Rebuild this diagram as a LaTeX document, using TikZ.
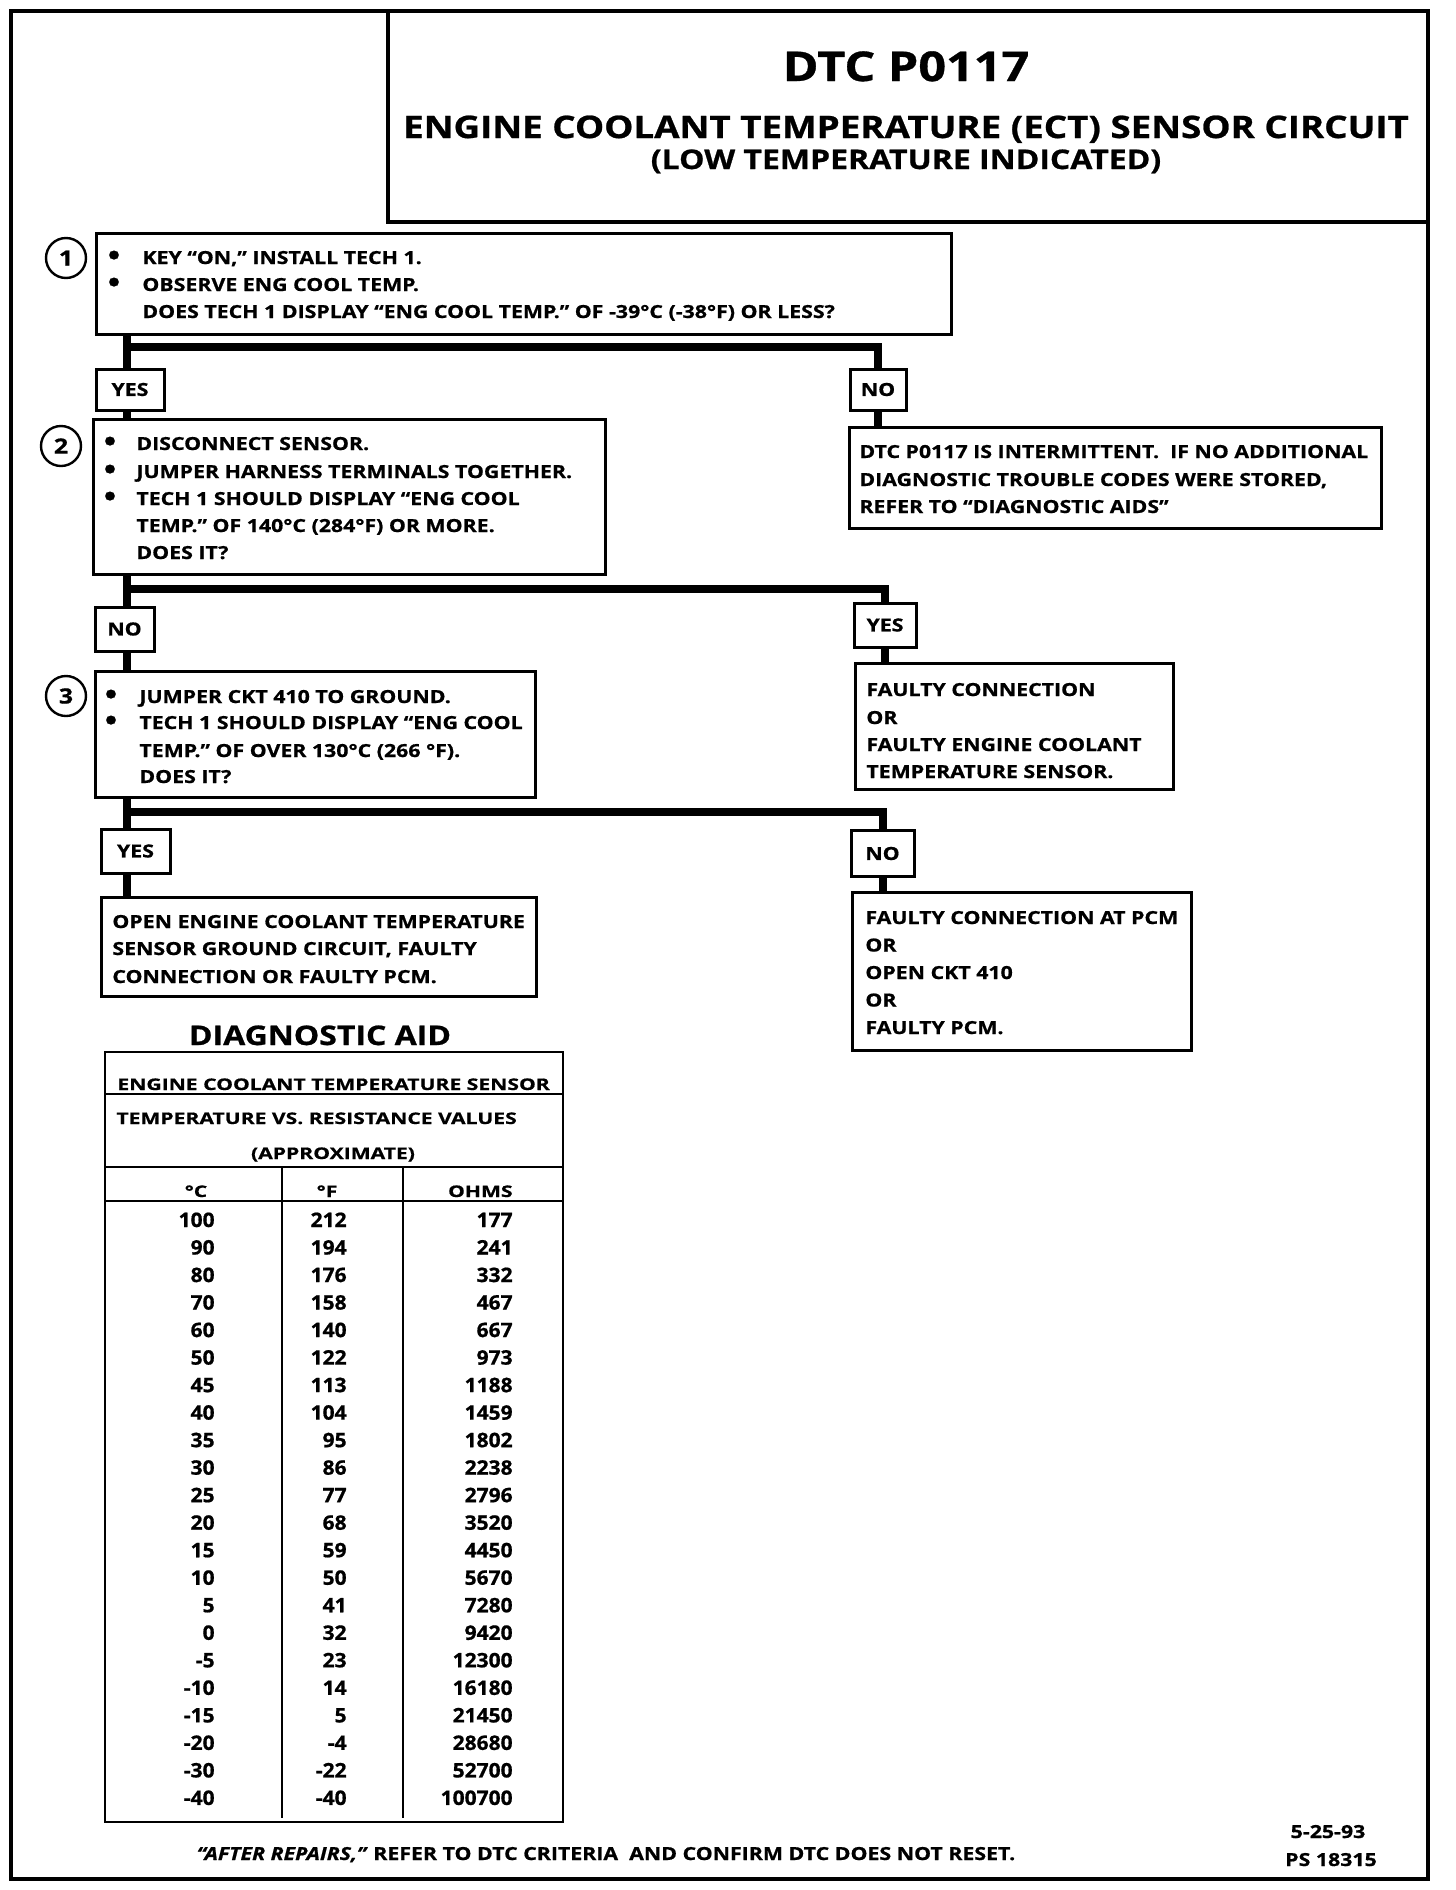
\documentclass[tikz,border=0pt]{standalone}
\usepackage{fontspec}
\setmainfont{Open Sans}[FakeStretch=1.185,FakeBold=0.8]
\newfontfamily\plainf{Open Sans}[FakeStretch=1.05,FakeBold=0.8]
\newfontfamily\wideh{Open Sans}[FakeStretch=1.32,FakeBold=0.6]
\begin{document}
\begin{tikzpicture}[x=0.5pt,y=-0.5pt,
  box/.style={draw, line width=1.5pt, inner sep=0pt},
  conn/.style={line width=4pt},
  ft/.style={font=\bfseries\fontsize{9}{11}\selectfont},
  tx/.style={ft, anchor=base west, inner sep=0pt},
  bul/.style={anchor=center, inner sep=0pt, font=\bfseries\fontsize{14}{14}\selectfont},
  num/.style={circle, draw, line width=1.2pt, minimum size=20pt, inner sep=0pt, font=\bfseries\fontsize{10.5}{12}\selectfont},
  yn/.style={box, ft},
  tl/.style={line width=1.4pt},
  thd/.style={anchor=base west, inner sep=0pt, font=\wideh\bfseries\fontsize{8}{10}\selectfont},
  dig/.style={anchor=base east, inner sep=0pt, font=\plainf\bfseries\fontsize{10}{11}\selectfont}]
\useasboundingbox (0,0) rectangle (1456,1890);
\fill[white] (0,0) rectangle (1456,1890);
% frame and header
\draw[line width=2pt] (11,11) rectangle (1428,1879);
\draw[line width=2pt] (388,11) -- (388,222) -- (1428,222);
\node[anchor=base, inner sep=0pt, font=\bfseries\fontsize{20.5}{24}\selectfont] (ttl) at (906,81) {DTC P0117};
\node[anchor=base, inner sep=0pt, font=\bfseries\fontsize{15.5}{18}\selectfont] (sub1) at (906,138) {ENGINE COOLANT TEMPERATURE (ECT) SENSOR CIRCUIT};
\node[anchor=base, inner sep=0pt, font=\bfseries\fontsize{13.5}{16}\selectfont] (sub2) at (906,169) {(LOW TEMPERATURE INDICATED)};

% step 1
\node[box, minimum width=427.5pt, minimum height=50.5pt] (s1) at (523.5,283.5) {};
\node[num] (c1) at (66,258) {1};
\node[bul] (b1a) at (114,258) {•};
\node[bul] (b1b) at (114,285) {•};
\node[tx] (t1a) at (142,264) {KEY “ON,” INSTALL TECH 1.};
\node[tx] (t1b) at (142,291) {OBSERVE ENG COOL TEMP.};
\node[tx] (t1c) at (142,318) {DOES TECH 1 DISPLAY “ENG COOL TEMP.” OF -39°C (-38°F) OR LESS?};

\node[yn, minimum width=34pt, minimum height=20.5pt] (y1) at (130,389.5) {YES};
\node[yn, minimum width=28pt, minimum height=20.5pt] (n1) at (878,389.5) {NO};

% step 2
\node[box, minimum width=256pt, minimum height=77.5pt] (s2) at (349,496.5) {};
\node[num] (c2) at (61,446) {2};
\node[bul] (b2a) at (110,444) {•};
\node[bul] (b2b) at (110,472) {•};
\node[bul] (b2c) at (110,499) {•};
\node[tx] (t2a) at (136,450) {DISCONNECT SENSOR.};
\node[tx] (t2b) at (136,478) {JUMPER HARNESS TERMINALS TOGETHER.};
\node[tx] (t2c) at (136,505) {TECH 1 SHOULD DISPLAY “ENG COOL};
\node[tx] (t2d) at (136,532) {TEMP.” OF 140°C (284°F) OR MORE.};
\node[tx] (t2e) at (136,559) {DOES IT?};

% intermittent
\node[box, minimum width=266pt, minimum height=50.5pt] (int) at (1115,477.5) {};
\node[tx] (ti1) at (859,458) {DTC P0117 IS INTERMITTENT.\ \ IF NO ADDITIONAL};
\node[tx] (ti2) at (859,486) {DIAGNOSTIC TROUBLE CODES WERE STORED,};
\node[tx] (ti3) at (859,513) {REFER TO “DIAGNOSTIC AIDS”};

\node[yn, minimum width=29.5pt, minimum height=22pt] (n2) at (124.5,629) {NO};
\node[yn, minimum width=31pt, minimum height=22pt] (y2) at (885,625) {YES};

% step 3
\node[box, minimum width=220pt, minimum height=63pt] (s3) at (315,734) {};
\node[num] (c3) at (66,696) {3};
\node[bul] (b3a) at (111,697) {•};
\node[bul] (b3b) at (111,723) {•};
\node[tx] (t3a) at (139,703) {JUMPER CKT 410 TO GROUND.};
\node[tx] (t3b) at (139,729) {TECH 1 SHOULD DISPLAY “ENG COOL};
\node[tx] (t3c) at (139,757) {TEMP.” OF OVER 130°C (266 °F).};
\node[tx] (t3d) at (139,783) {DOES IT?};

% faulty connection
\node[box, minimum width=159pt, minimum height=63pt] (fc) at (1014,726.5) {};
\node[tx] (tf1) at (866,696) {FAULTY CONNECTION};
\node[tx] (tf2) at (866,724) {OR};
\node[tx] (tf3) at (866,751) {FAULTY ENGINE COOLANT};
\node[tx] (tf4) at (866,778) {TEMPERATURE SENSOR.};

\node[yn, minimum width=34.5pt, minimum height=22pt] (y3) at (135.5,851) {YES};
\node[yn, minimum width=31.5pt, minimum height=23pt] (n3) at (882.5,853.5) {NO};

% open box
\node[box, minimum width=217.5pt, minimum height=49.5pt] (ob) at (318.5,946.5) {};
\node[tx] (to1) at (112,928) {OPEN ENGINE COOLANT TEMPERATURE};
\node[tx] (to2) at (112,955) {SENSOR GROUND CIRCUIT, FAULTY};
\node[tx] (to3) at (112,983) {CONNECTION OR FAULTY PCM.};

% pcm box
\node[box, minimum width=169.5pt, minimum height=79pt] (pcm) at (1021.5,971) {};
\node[tx] (tp1) at (865,924) {FAULTY CONNECTION AT PCM};
\node[tx] (tp2) at (865,951.5) {OR};
\node[tx] (tp3) at (865,979) {OPEN CKT 410};
\node[tx] (tp4) at (865,1006.5) {OR};
\node[tx] (tp5) at (865,1034) {FAULTY PCM.};

% connectors
\coordinate (tr) at (127,0);
\coordinate (j1) at (127,347);
\coordinate (j2) at (127,589);
\coordinate (j3) at (127,812);
\draw[conn] (s1.south -| tr) -- (y1.north -| tr);
\draw[conn] (j1) -| (n1.north);
\draw[conn] (y1.south -| tr) -- (s2.north -| tr);
\draw[conn] (n1.south) -- (int.north -| n1.south);
\draw[conn] (s2.south -| tr) -- (n2.north -| tr);
\draw[conn] (j2) -| (y2.north);
\draw[conn] (y2.south) -- (fc.north -| y2.south);
\draw[conn] (n2.south -| tr) -- (s3.north -| tr);
\draw[conn] (s3.south -| tr) -- (y3.north -| tr);
\draw[conn] (j3) -| (n3.north);
\draw[conn] (y3.south -| tr) -- (ob.north -| tr);
\draw[conn] (n3.south) -- (pcm.north -| n3.south);

% diagnostic aid table
\node[anchor=base, inner sep=0pt, font=\bfseries\fontsize{13.5}{16}\selectfont] (da) at (320,1045) {DIAGNOSTIC AID};
\draw[tl] (105,1052) rectangle (563,1822);
\draw[tl] (105,1094) -- (563,1094);
\draw[tl] (105,1167) -- (563,1167);
\draw[tl] (105,1201) -- (563,1201);
\draw[line width=1.2pt] (282,1167) -- (282,1818);
\draw[line width=1.2pt] (403,1167) -- (403,1818);
\node[thd] (th1) at (117,1090) {ENGINE COOLANT TEMPERATURE SENSOR};
\node[thd] (th2) at (116,1124) {TEMPERATURE VS. RESISTANCE VALUES};
\node[thd, anchor=base] (th3) at (333,1159) {(APPROXIMATE)};
\node[thd, anchor=base] (hc) at (196,1197) {°C};
\node[thd, anchor=base] (hf) at (327,1197) {°F};
\node[thd, anchor=base east] (ho) at (513,1197) {OHMS};
\foreach \c/\f/\o [count=\i] in {100/212/177, 90/194/241, 80/176/332, 70/158/467, 60/140/667, 50/122/973, 45/113/1188, 40/104/1459, 35/95/1802, 30/86/2238, 25/77/2796, 20/68/3520, 15/59/4450, 10/50/5670, 5/41/7280, 0/32/9420, -5/23/12300, -10/14/16180, -15/5/21450, -20/-4/28680, -30/-22/52700, -40/-40/100700} {
  \node[dig] (rc\i) at (215,{1227+(\i-1)*27.52}) {\c};
  \node[dig] (rf\i) at (347,{1227+(\i-1)*27.52}) {\f};
  \node[dig] (ro\i) at (513,{1227+(\i-1)*27.52}) {\o};
}

% footer
\node[anchor=base, inner sep=0pt, ft] (foot) at (606,1860) {\textit{“AFTER REPAIRS,”} REFER TO DTC CRITERIA\ \ AND CONFIRM DTC DOES NOT RESET.};
\node[anchor=base, inner sep=0pt, ft] (date) at (1328,1838) {5-25-93};
\node[anchor=base, inner sep=0pt, ft] (ps) at (1331,1866) {PS 18315};
\end{tikzpicture}
\end{document}
